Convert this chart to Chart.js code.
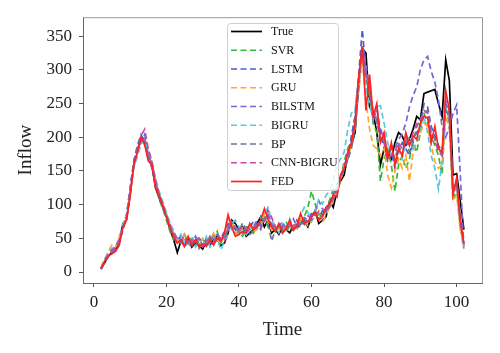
<!DOCTYPE html>
<html>
<head>
<meta charset="utf-8">
<script src="https://cdn.jsdelivr.net/npm/chart.js@4"></script>
<style>
html,body{margin:0;padding:0;background:#fff;}
#wrap{width:500px;height:353px;}
</style>
</head>
<body>
<div id="wrap"><canvas id="c" width="500" height="353"></canvas></div>
<script>
const timeSteps = [];
for (let t = 2; t <= 102; t++) timeSteps.push(t);

const xTicks = [0, 20, 40, 60, 80, 100];
const yTicks = [0, 50, 100, 150, 200, 250, 300, 350];
const seriesNames = ['True', 'SVR', 'LSTM', 'GRU', 'BILSTM', 'BIGRU', 'BP', 'CNN-BIGRU', 'FED'];

const trueVals = [5,14,24,29,34,44,72,78,115,158, 178,199,192,168,158,125,110,96,82,63, 48,29,46,39,50,37,43,39,34,46, 40,48,53,39,43,58,77,72,63,67, 53,58,63,72,82,67,77,58,63,56, 67,63,58,69,65,72,77,67,82,91, 72,77,82,106,96,120,135,144,173,188, 207,279,332,325,245,236,207,159,183,178, 168,192,207,202,188,197,212,231,226,265, 267,269,271,250,231,315,284,144,146,106, 63];
const svrVals = [6,19,27,31,37,48,69,82,120,162, 183,202,197,173,154,130,108,94,77,60, 48,53,40,56,43,53,38,46,48,43, 53,46,60,43,53,67,75,58,60,53, 67,65,58,69,75,82,67,72,60,67, 63,75,63,67,77,69,82,96,120,101, 85,87,91,106,123,115,139,164,183,197, 231,279,322,289,260,221,207,135,168,183, 159,120,159,173,154,168,192,178,207,236, 221,202,188,173,144,245,221,106,125,67, 40];
const lstmVals = [4,15,23,29,35,46,67,85,125,165, 188,204,192,175,156,133,111,96,85,67, 56,46,53,37,46,50,40,53,37,48, 42,56,46,50,60,72,69,63,56,65, 60,67,75,65,72,79,85,67,63,69, 58,67,72,60,75,77,69,79,87,85, 79,91,87,101,114,130,139,159,168,202, 231,293,360,298,279,226,245,207,183,164, 178,154,178,192,183,173,197,207,216,250, 245,216,202,188,178,250,236,120,135,82, 48];
const gruVals = [7,19,31,40,37,53,65,81,117,154, 175,197,188,171,159,135,117,101,87,69, 58,50,43,58,40,48,46,40,50,44, 46,58,48,42,56,79,72,60,53,65, 56,69,60,63,67,87,75,62,67,63, 69,60,67,72,65,79,75,69,77,81, 91,73,85,96,106,120,135,159,171,188, 216,269,317,255,212,188,183,173,183,144, 125,149,168,154,173,135,178,192,207,221, 216,188,164,154,159,231,216,106,115,63, 34];
const bilstmVals = [5,16,25,29,33,44,63,83,123,164, 181,192,204,178,154,137,115,100,83,71, 60,48,43,50,38,44,53,42,38,50, 44,52,56,46,53,63,75,67,63,58, 69,63,67,77,69,75,87,72,65,67, 75,63,69,79,67,73,81,77,83,89, 106,94,89,104,111,123,144,154,175,190, 219,279,337,308,265,240,221,216,192,178, 188,183,197,205,221,245,262,275,300,315, 320,298,282,255,216,200,215,235,248,147, 32];
const bigruVals = [6,18,29,35,38,50,71,85,120,156, 171,190,196,181,164,139,120,104,88,73, 60,48,56,43,38,53,37,44,40,53, 37,44,50,33,46,56,72,77,67,62, 56,63,69,65,81,87,96,77,69,58, 72,65,79,67,72,85,96,89,75,91, 108,101,114,120,135,159,168,178,212,236, 240,289,327,274,250,226,245,247,221,192, 173,164,178,168,192,202,183,192,216,231, 207,173,154,123,164,245,226,115,130,75, 38];
const bpVals = [5,14,23,32,36,45,62,81,117,162, 179,196,200,173,162,131,114,96,81,67, 54,42,48,40,44,38,50,35,44,40, 52,42,54,48,50,63,71,65,60,73, 62,56,60,71,63,79,73,46,62,69, 63,58,73,65,71,67,79,75,77,87, 81,85,94,98,108,125,137,152,166,183, 212,274,332,289,269,236,226,192,202,173, 183,168,188,173,197,178,192,216,226,240, 236,207,197,178,173,240,231,125,133,77, 40];
const cnnBigruVals = [6,17,26,33,37,48,67,79,121,158, 183,202,212,183,164,135,115,102,85,69, 58,50,46,54,42,48,44,50,38,46, 50,44,56,50,46,67,63,69,62,67, 63,60,65,73,67,75,92,81,67,62, 69,67,71,63,77,69,73,83,79,85, 89,83,91,96,111,120,142,156,173,190, 223,284,335,293,274,231,236,197,192,168, 173,178,192,183,202,188,207,221,226,236, 240,197,192,183,173,255,240,120,137,79, 42];
const fedVals = [5,17,24,27,31,40,67,77,113,159, 178,200,190,165,159,125,113,98,82,65, 52,43,48,38,53,40,48,37,42,38, 48,40,50,46,58,85,67,53,56,60, 58,72,63,67,77,94,79,67,60,72, 58,65,77,62,69,87,72,75,82,89, 77,82,96,101,115,111,144,154,178,192, 221,289,335,240,293,231,250,192,207,168, 192,159,183,173,207,188,202,197,221,231, 229,192,216,183,178,269,240,115,139,77, 43];

const allVals = [trueVals, svrVals, lstmVals, gruVals, bilstmVals, bigruVals, bpVals, cnnBigruVals, fedVals];
const colors = ['#000000', '#35b835', '#4a5ccc', '#ffa62b', '#7466d6', '#5cc8e0', '#6a7896', '#c84aa8', '#ff2222'];
const dashes = [[], [6,3.5], [6,3.5], [6,3.5], [6,3.5], [6,3.5], [6,3.5], [6,3.5], []];

const datasets = seriesNames.map((name, i) => ({
  label: name,
  data: timeSteps.map((t, j) => ({x: t, y: allVals[i][j]})),
  borderColor: colors[i],
  backgroundColor: colors[i],
  borderDash: dashes[i],
  borderWidth: 1.7,
  pointRadius: 0,
  tension: 0,
  fill: false,
  order: seriesNames.length - 1 - i
}));

const frameAndLegend = {
  id: 'frameAndLegend',
  afterDatasetsDraw(chart) {
    const ctx = chart.ctx;
    const a = chart.chartArea;
    ctx.save();
    ctx.setLineDash([]);
    ctx.lineWidth = 1;
    ctx.strokeStyle = '#9a9a9a';
    ctx.beginPath();
    ctx.moveTo(a.left, a.top + 0.5); ctx.lineTo(a.right + 0.5, a.top + 0.5);
    ctx.lineTo(a.right + 0.5, a.bottom);
    ctx.stroke();
    const x0 = 227.5, y0 = 23.5, w = 111, h = 167, r = 3;
    ctx.beginPath();
    ctx.moveTo(x0 + r, y0);
    ctx.lineTo(x0 + w - r, y0); ctx.arcTo(x0 + w, y0, x0 + w, y0 + r, r);
    ctx.lineTo(x0 + w, y0 + h - r); ctx.arcTo(x0 + w, y0 + h, x0 + w - r, y0 + h, r);
    ctx.lineTo(x0 + r, y0 + h); ctx.arcTo(x0, y0 + h, x0, y0 + h - r, r);
    ctx.lineTo(x0, y0 + r); ctx.arcTo(x0, y0, x0 + r, y0, r);
    ctx.closePath();
    ctx.fillStyle = 'rgba(255,255,255,0.82)';
    ctx.fill();
    ctx.strokeStyle = '#d0d0d0';
    ctx.stroke();
    ctx.font = '12px "Liberation Serif", "DejaVu Serif", serif';
    ctx.textBaseline = 'middle';
    ctx.textAlign = 'left';
    chart.data.datasets.forEach((ds, i) => {
      const y = 31.5 + i * 18.75;
      ctx.strokeStyle = ds.borderColor;
      ctx.lineWidth = 1.7;
      ctx.setLineDash(ds.borderDash || []);
      ctx.beginPath();
      ctx.moveTo(231, y); ctx.lineTo(262, y);
      ctx.stroke();
      ctx.setLineDash([]);
      ctx.fillStyle = '#111';
      ctx.fillText(ds.label, 271, y + 0.5);
    });
    ctx.restore();
  }
};

new Chart(document.getElementById('c'), {
  type: 'line',
  data: {datasets},
  options: {
    responsive: false,
    animation: false,
    layout: {padding: {top: 17, right: 18, left: 0, bottom: 0}},
    plugins: {legend: {display: false}, tooltip: {enabled: false}},
    scales: {
      x: {
        type: 'linear',
        min: -3, max: 107,
        afterBuildTicks(s) { s.ticks = xTicks.map(v => ({value: v})); },
        afterFit(s) { s.height = 70; },
        grid: {drawOnChartArea: false, drawTicks: true, tickLength: 4, color: '#555'},
        border: {display: true, color: '#666', width: 1},
        ticks: {font: {family: '"Liberation Serif", "DejaVu Serif", serif', size: 17}, color: '#222', padding: 5, maxRotation: 0},
        title: {display: true, text: 'Time', font: {family: '"Liberation Serif", "DejaVu Serif", serif', size: 19}, color: '#222', padding: {top: 0, bottom: 11.6}}
      },
      y: {
        type: 'linear',
        min: -16.3, max: 378.3,
        afterBuildTicks(s) { s.ticks = yTicks.map(v => ({value: v})); },
        afterFit(s) { s.width = 83; },
        grid: {drawOnChartArea: false, drawTicks: true, tickLength: 4, color: '#555'},
        border: {display: true, color: '#666', width: 1},
        ticks: {font: {family: '"Liberation Serif", "DejaVu Serif", serif', size: 17}, color: '#222', padding: 7},
        title: {display: true, text: 'Inflow', font: {family: '"Liberation Serif", "DejaVu Serif", serif', size: 19}, color: '#222', padding: {top: 14.6, bottom: 0}}
      }
    }
  },
  plugins: [frameAndLegend]
});
</script>
</body>
</html>
